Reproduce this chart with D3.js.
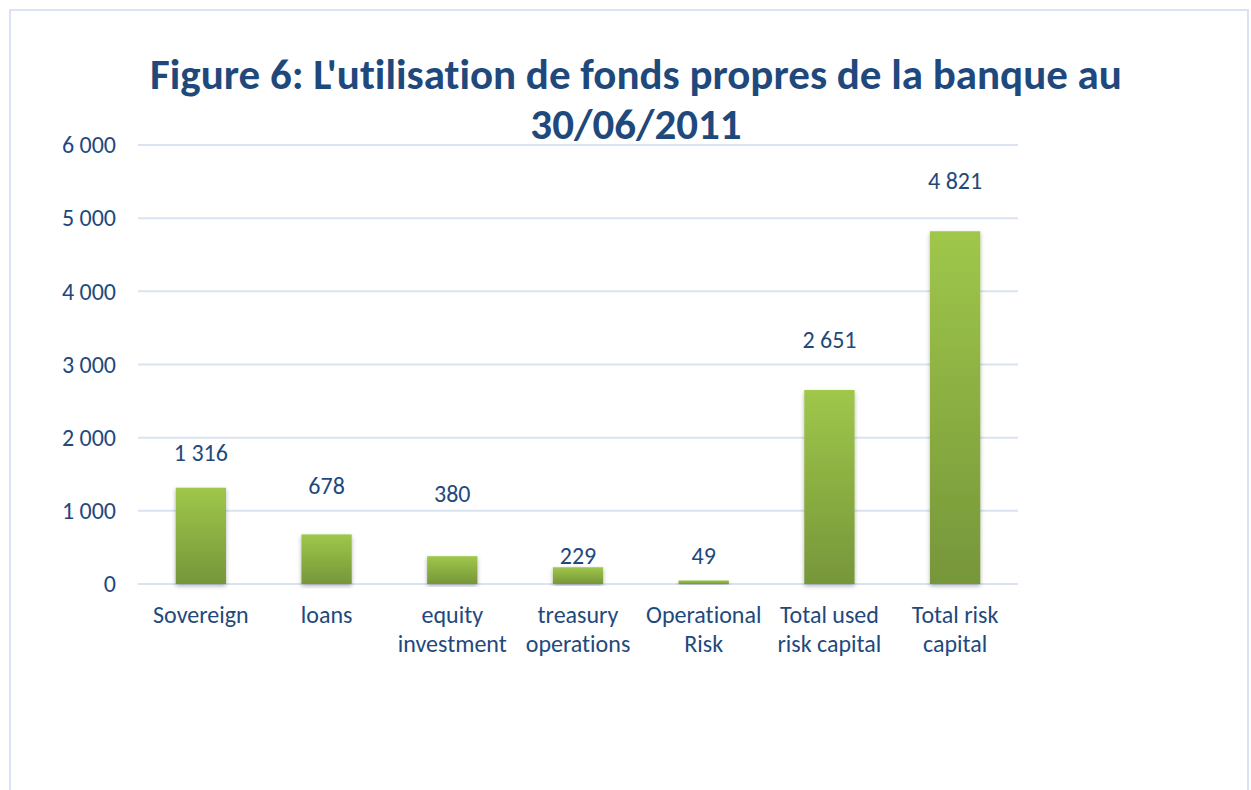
<!DOCTYPE html>
<html>
<head>
<meta charset="utf-8">
<script src="https://cdn.jsdelivr.net/npm/d3@7/dist/d3.min.js"></script>
<style>
  body { margin: 0; background: #fff; }
  text { font-family: Carlito, "Open Sans", "Noto Sans", sans-serif; fill: #1f497d; font-variant-ligatures: none; }
</style>
</head>
<body>
<svg id="chart"></svg>
<script>
// data
var categories = [
    ["Sovereign"],
    ["loans"],
    ["equity", "investment"],
    ["treasury", "operations"],
    ["Operational", "Risk"],
    ["Total used", "risk capital"],
    ["Total risk", "capital"]
]
var values = [1316, 678, 380, 229, 49, 2651, 4821]
var yTicks = [0, 1000, 2000, 3000, 4000, 5000, 6000]
var titleLines = ["Figure 6: L'utilisation de fonds propres de la banque au", "30/06/2011"]

// how far above the bar top each value label baseline sits (px), they were placed by hand
var labelLift = [27, 40, 54, 3, 16, 42, 42]

var screen = {width: 1251, height: 790}
var margins = {top: 145, bottom: 206, left: 138, right: 233}
var graph = {
    width: screen.width - margins.left - margins.right,
    height: screen.height - margins.top - margins.bottom
}

var svg = d3.select("#chart")
    .attr("width", screen.width)
    .attr("height", screen.height)

var defs = svg.append("defs")
var grad = defs.append("linearGradient")
    .attr("id", "barGrad")
    .attr("x1", 0).attr("y1", 0).attr("x2", 0).attr("y2", 1)
grad.append("stop").attr("offset", "0%").attr("stop-color", "#9fc74a")
grad.append("stop").attr("offset", "100%").attr("stop-color", "#76963a")

var shadow = defs.append("filter").attr("id", "shadow")
    .attr("x", "-20%").attr("y", "-5%").attr("width", "140%").attr("height", "115%")
shadow.append("feDropShadow")
    .attr("dx", 0).attr("dy", 2).attr("stdDeviation", 2)
    .attr("flood-color", "#000").attr("flood-opacity", 0.3)

// outer frame
svg.append("rect")
    .attr("x", 10).attr("y", 10)
    .attr("width", 1238).attr("height", 800)
    .attr("fill", "none")
    .attr("stroke", "#dae3f3")
    .attr("stroke-width", 2)

var xScale = d3.scaleBand()
    .domain(d3.range(categories.length))
    .range([0, graph.width])
    .paddingInner(0.6)
    .paddingOuter(0.3)

var yScale = d3.scaleLinear()
    .domain([0, 6000])
    .range([graph.height, 0])

var g = svg.append("g")
    .classed("graph", true)
    .attr("transform", "translate(" + margins.left + "," + margins.top + ")")

// gridlines
g.append("g").selectAll("line")
    .data(yTicks)
    .enter()
    .append("line")
    .attr("x1", 0)
    .attr("x2", graph.width)
    .attr("y1", function(d){ return yScale(d) })
    .attr("y2", function(d){ return yScale(d) })
    .attr("stroke", "#d9e3f1")
    .attr("stroke-width", 2)

var fmt = function(v){ return d3.format(",")(v).replace(/,/g, " ") }

var yAxis = d3.axisLeft(yScale)
    .tickValues(yTicks)
    .tickSize(0)
    .tickPadding(22)
    .tickFormat(fmt)
var ya = g.append("g").call(yAxis)
ya.select(".domain").remove()
ya.selectAll("text")
    .style("font-size", "24px")
    .attr("fill", "#1f497d")

// bars
g.append("g").selectAll("rect")
    .data(values)
    .enter()
    .append("rect")
    .attr("x", function(d, i){ return xScale(i) })
    .attr("width", xScale.bandwidth())
    .attr("y", function(d){ return yScale(d) })
    .attr("height", function(d){ return graph.height - yScale(d) })
    .attr("fill", "url(#barGrad)")
    .attr("filter", "url(#shadow)")

// value labels
g.append("g").selectAll("text")
    .data(values)
    .enter()
    .append("text")
    .attr("x", function(d, i){ return xScale(i) + xScale.bandwidth() / 2 })
    .attr("y", function(d, i){ return yScale(d) - labelLift[i] })
    .attr("text-anchor", "middle")
    .style("font-size", "24px")
    .text(fmt)

// category labels
var cats = g.append("g").selectAll("text")
    .data(categories)
    .enter()
    .append("text")
    .attr("text-anchor", "middle")
    .attr("x", function(d, i){ return xScale(i) + xScale.bandwidth() / 2 })
    .attr("y", graph.height + 39)
    .style("font-size", "24px")
cats.selectAll("tspan")
    .data(function(d){ return d })
    .enter()
    .append("tspan")
    .attr("x", function(){ return d3.select(this.parentNode).attr("x") })
    .attr("dy", function(d, i){ return i == 0 ? 0 : 29 })
    .text(function(d){ return d })

// title
svg.append("g").selectAll("text")
    .data(titleLines)
    .enter()
    .append("text")
    .attr("x", 636)
    .attr("y", function(d, i){ return 89 + i * 50 })
    .attr("text-anchor", "middle")
    .style("font-size", "43px")
    .style("font-weight", "bold")
    .text(function(d){ return d })
</script>
</body>
</html>
